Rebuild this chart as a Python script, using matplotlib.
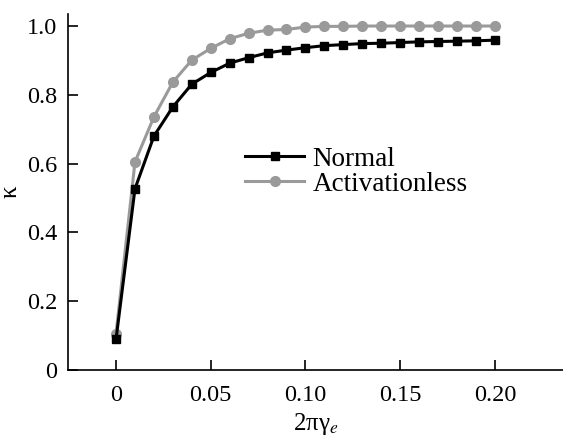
import numpy as np
import matplotlib
matplotlib.use("Agg")
import matplotlib.pyplot as plt

# data
x = [0.00, 0.01, 0.02, 0.03, 0.04, 0.05, 0.06, 0.07, 0.08, 0.09, 0.10,
     0.11, 0.12, 0.13, 0.14, 0.15, 0.16, 0.17, 0.18, 0.19, 0.20]
normal = [0.090, 0.527, 0.680, 0.765, 0.831, 0.865, 0.892, 0.908, 0.922, 0.930, 0.937,
          0.943, 0.946, 0.949, 0.950, 0.952, 0.954, 0.955, 0.956, 0.957, 0.959]
activationless = [0.106, 0.605, 0.736, 0.837, 0.901, 0.935, 0.963, 0.979, 0.988, 0.990, 0.997,
                  0.999, 0.999, 1.000, 1.000, 1.000, 1.000, 1.000, 1.000, 1.000, 1.000]

xticks = [0, 0.05, 0.10, 0.15, 0.20]
xticklabels = ["0", "0.05", "0.10", "0.15", "0.20"]
yticks = [0, 0.2, 0.4, 0.6, 0.8, 1.0]
yticklabels = ["0", "0.2", "0.4", "0.6", "0.8", "1.0"]

plt.rcParams["font.family"] = ["Liberation Serif", "DejaVu Serif"]
plt.rcParams["mathtext.fontset"] = "stix"

fig = plt.figure(figsize=(5.63, 4.37), dpi=100)
ax = fig.add_axes([0.121, 0.153, 0.879, 0.815])

ax.plot(x, activationless, color="#9a9a9a", lw=2.2, marker="o", ms=7,
        label="Activationless", zorder=2)
ax.plot(x, normal, color="black", lw=2.2, marker="s", ms=6,
        label="Normal", zorder=3)

ax.set_xlim(-0.0253, 0.236)
ax.set_ylim(0, 1.035)
ax.set_xticks(xticks)
ax.set_xticklabels(xticklabels)
ax.set_yticks(yticks)
ax.set_yticklabels(yticklabels)

for s in ["top", "right"]:
    ax.spines[s].set_visible(False)
for s in ["left", "bottom"]:
    ax.spines[s].set_linewidth(1.2)

ax.tick_params(direction="in", length=7, width=1.2, labelsize=17.5, pad=8)
ax.tick_params(axis="x", pad=11)

ax.set_xlabel(r"2πγ$_e$", fontsize=18, labelpad=3)
ax.set_ylabel("κ", fontsize=18, labelpad=4)

handles, labels = ax.get_legend_handles_labels()
ax.legend(handles[::-1], labels[::-1], loc="upper left",
          bbox_to_anchor=(0.335, 0.657), frameon=False, fontsize=19.5,
          handlelength=2.2, handletextpad=0.3, labelspacing=0.0,
          borderaxespad=0)

fig.savefig("out.png", dpi=100)
